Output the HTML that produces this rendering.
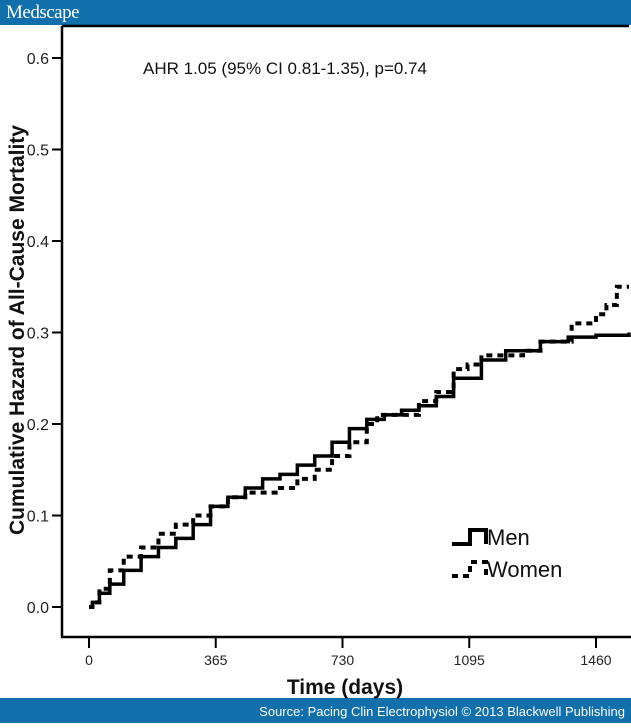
<!DOCTYPE html>
<html><head><meta charset="utf-8"><style>
body{margin:0;width:631px;height:723px;overflow:hidden;background:#fff;font-family:"Liberation Sans",sans-serif}
</style></head><body>
<svg width="631" height="723" xmlns="http://www.w3.org/2000/svg">
<rect x="0" y="0" width="631" height="25" fill="#1170ab"/>
<text x="6" y="18" font-family="Liberation Serif,serif" font-size="19" fill="#fff" letter-spacing="-0.5">Medscape</text>
<rect x="0" y="698" width="631" height="25" fill="#1170ab"/>
<text x="625" y="716" text-anchor="end" font-size="13" fill="#fff">Source: Pacing Clin Electrophysiol © 2013 Blackwell Publishing</text>
<g id="axes"></g>
<g id="series"></g>
<text x="143" y="74" font-size="17" fill="#111">AHR 1.05 (95% CI 0.81-1.35), p=0.74</text>
<text transform="translate(24,330) rotate(-90)" text-anchor="middle" font-size="21" font-weight="bold" fill="#111">Cumulative Hazard of All-Cause Mortality</text>
<text x="345" y="694" text-anchor="middle" font-size="21" font-weight="bold" fill="#111">Time (days)</text>
<g>
<path d="M452 544 H470 V530 H486 V544" fill="none" stroke="#000" stroke-width="4"/>
<text x="487" y="545" font-size="22" fill="#111">Men</text>
<path d="M452 576 H470 V562 H486 V576" fill="none" stroke="#000" stroke-width="4" stroke-dasharray="6,5"/>
<text x="487" y="577" font-size="22" fill="#111">Women</text>
</g>
</svg>
<script>
const xTicks=[0,365,730,1095,1460];
const yTicks=[0.0,0.1,0.2,0.3,0.4,0.5,0.6];
const menDays=[0,10,30,60,100,150,200,250,300,350,400,450,500,550,600,650,700,750,800,850,900,950,1000,1050,1100,1130,1200,1300,1380,1460,1555];
const menHaz=[0,0.005,0.015,0.025,0.04,0.055,0.065,0.075,0.09,0.11,0.12,0.13,0.14,0.145,0.155,0.165,0.18,0.195,0.205,0.21,0.215,0.22,0.23,0.25,0.25,0.27,0.28,0.29,0.295,0.297,0.3];
const womenDays=[0,10,30,60,100,150,200,250,300,350,400,450,500,550,600,650,700,750,800,830,900,950,1000,1050,1090,1130,1250,1300,1380,1390,1420,1460,1490,1520,1555];
const womenHaz=[0,0.005,0.02,0.04,0.055,0.065,0.08,0.09,0.1,0.11,0.12,0.125,0.125,0.13,0.14,0.15,0.165,0.18,0.2,0.21,0.21,0.225,0.235,0.26,0.265,0.275,0.28,0.29,0.29,0.31,0.31,0.32,0.33,0.35,0.35];
const NS="http://www.w3.org/2000/svg";
const X=d=>89+d*(507/1460);
const Y=v=>607-v*915;
const axes=document.getElementById('axes'),series=document.getElementById('series');
function mk(tag,attrs,parent){const e=document.createElementNS(NS,tag);for(const k in attrs)e.setAttribute(k,attrs[k]);parent.appendChild(e);return e;}
let f=mk('path',{d:'M62 26 H629 M62 26 V637 H631',fill:'none',stroke:'#000','stroke-width':2.5},axes);


yTicks.forEach(v=>{
 let t=mk('line',{x1:52,x2:62,y1:Y(v),y2:Y(v),stroke:'#000','stroke-width':2},axes);
 
 
 let l=mk('text',{x:49,y:Y(v)+6,'text-anchor':'end','font-size':16,fill:'#222'},axes);
 l.textContent=v.toFixed(1);
 
 
});
xTicks.forEach(d=>{
 let t=mk('line',{x1:X(d),x2:X(d),y1:637,y2:648,stroke:'#000','stroke-width':2},axes);
 
 
 let l=mk('text',{x:X(d),y:665,'text-anchor':'middle','font-size':14,fill:'#222'},axes);
 l.textContent=d;
 
 
});
function step(days,haz){let d='M'+X(days[0])+' '+Y(haz[0]);for(let i=1;i<days.length;i++){d+=' H'+Math.min(X(days[i]),629)+' V'+Y(haz[i]);}return d;}
let m=mk('path',{d:step(menDays,menHaz),fill:'none',stroke:'#000','stroke-width':3.5},series);


let w=mk('path',{d:step(womenDays,womenHaz),fill:'none',stroke:'#000','stroke-width':4,'stroke-dasharray':'6,5'},series);


</script>
</body></html>
